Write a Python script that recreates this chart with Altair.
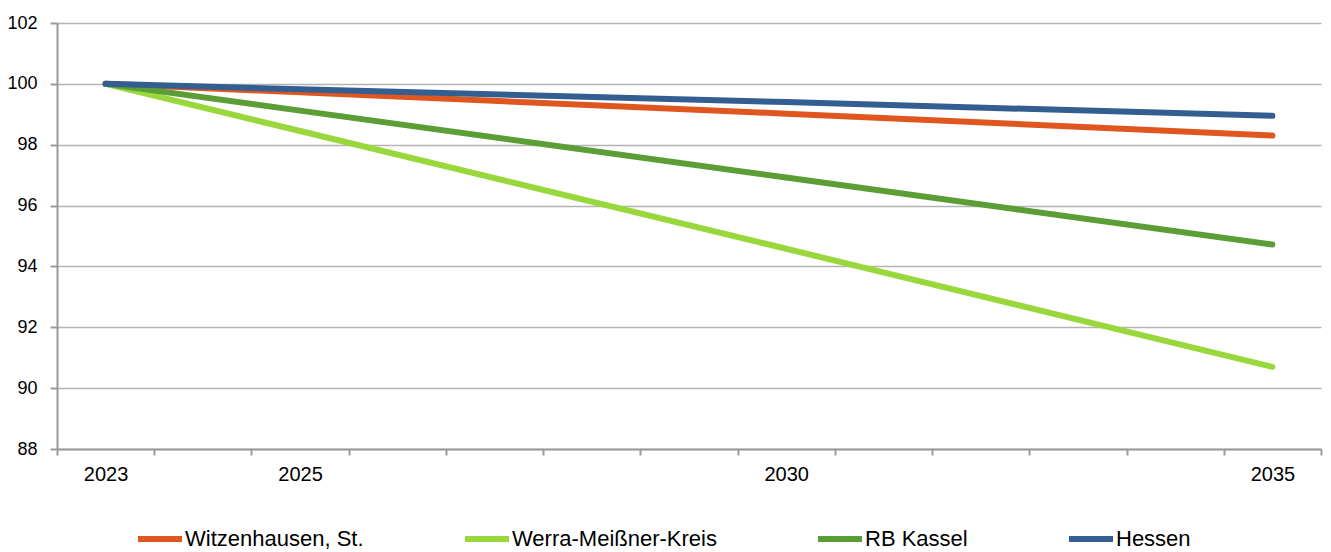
import altair as alt
import pandas as pd

years = [2023, 2025, 2030, 2035]
label_years = [2023, 2025, 2030, 2035]
series = ["Witzenhausen, St.", "Werra-Meißner-Kreis", "RB Kassel", "Hessen"]
witzenhausen = [100.0, 99.72, 99.02, 98.30]
werra = [100.0, 98.45, 94.58, 90.70]
rb_kassel = [100.0, 99.12, 96.92, 94.72]
hessen = [100.0, 99.82, 99.40, 98.95]
colors = ["#E0561F", "#99D83C", "#5A9E35", "#335E91"]
y_ticks = [88, 90, 92, 94, 96, 98, 100, 102]

rows = []
for i, (name, vals) in enumerate(zip(series, [witzenhausen, werra, rb_kassel, hessen])):
    for yr, v in zip(years, vals):
        rows.append({"Jahr": yr, "Wert": v, "Gebiet": name, "ord": i})
df = pd.DataFrame(rows)

first, last = 2023, 2035
boundaries = [first - 0.5 + i for i in range(last - first + 2)]

FONT = "Liberation Sans, Arial, sans-serif"
W, H = 1264, 426
GRAY = "#9a9a9a"

xscale = alt.Scale(domain=[first - 0.5, last + 0.5], nice=False, zero=False)
yscale = alt.Scale(domain=[88, 102], nice=False, zero=False)

lines = alt.Chart(df).mark_line(strokeWidth=6, strokeCap="round", strokeJoin="round").encode(
    x=alt.X("Jahr:Q", scale=xscale,
            axis=alt.Axis(values=label_years, title=None, grid=False, ticks=False, orient="bottom",
                          format="d", labelOverlap=False, labelBound=False, labelFlush=False,
                          labelFontSize=20, labelPadding=15, domainColor=GRAY, domainWidth=2)),
    y=alt.Y("Wert:Q", scale=yscale,
            axis=alt.Axis(values=y_ticks, title=None, grid=True, gridColor="#b4b4b4", gridWidth=1.5,
                          tickSize=7, labelPadding=13, labelFontSize=18,
                          domainColor=GRAY, tickColor=GRAY, domainWidth=2, tickWidth=2)),
    color=alt.Color("Gebiet:N",
                    scale=alt.Scale(domain=series, range=colors),
                    legend=alt.Legend(title=None, orient="none", legendX=78, legendY=491,
                                      direction="horizontal", columns=4, columnPadding=89,
                                      symbolType="stroke", symbolSize=1936, symbolStrokeWidth=6,
                                      labelOffset=0, labelFontSize=22, labelFont=FONT,
                                      labelColor="#000000", labelLimit=400)),
    order=alt.Order("ord:Q"),
)

ticks_layer = alt.Chart(df).mark_point(opacity=0).encode(
    x=alt.X("Jahr:Q", scale=xscale,
            axis=alt.Axis(values=boundaries, title=None, grid=False, labels=False, orient="bottom",
                          domain=False, tickSize=6, tickColor=GRAY, tickWidth=2)),
)

chart = alt.layer(lines, ticks_layer).resolve_axis(x="independent").properties(
    width=W, height=H,
    autosize=alt.AutoSizeParams(type="none"),
    padding={"left": 49, "top": 15, "right": 2, "bottom": 103},
).configure_axis(
    labelFont=FONT, labelColor="#000000",
).configure_view(stroke=None)

chart.save("out.html", embed_options={"renderer": "svg", "actions": False})
